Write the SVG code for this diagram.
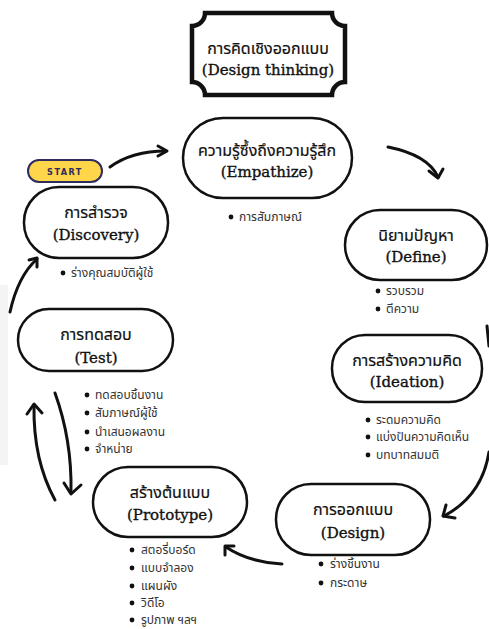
<svg xmlns="http://www.w3.org/2000/svg" width="489" height="629" viewBox="0 0 489 629">
<style>
.node{fill:#fff;stroke:#111;stroke-width:2.5}
.th{font-family:"Noto Sans Thai","Noto Sans","DejaVu Sans",sans-serif;font-size:16px;fill:#111;text-anchor:middle;stroke:#111;stroke-width:0.2}
.en{font-family:"DejaVu Serif","Liberation Serif",serif;font-size:15px;fill:#111;text-anchor:middle;stroke:#111;stroke-width:0.35}
.bl{font-family:"Noto Sans Thai","DejaVu Sans","Noto Sans",sans-serif;font-size:12px;fill:#333}
.dot{fill:#111}
.con{fill:none;stroke:#111;stroke-width:3;stroke-linecap:round;stroke-linejoin:round}
</style>
<rect width="489" height="629" fill="#fff"/>
<rect x="0" y="285" width="8" height="180" fill="#f4f4f4"/>
<g id="title">
<path d="M205,13 H332 A13,13 0 0 0 345,26 V82 A13,13 0 0 0 332,95 H205 A13,13 0 0 0 192,82 V26 A13,13 0 0 0 205,13 Z" fill="#fff" stroke="#111" stroke-width="4.5"/>
<text class="th" x="268" y="54">การคิดเชิงออกแบบ</text>
<text class="en" x="268" y="75">(Design thinking)</text>
</g>
<g id="start">
<rect x="28" y="160" width="74" height="22" rx="11" fill="#FFD54A" stroke="#2E2B5F" stroke-width="2"/>
<text x="65" y="175" font-family="DejaVu Sans Condensed,DejaVu Sans,sans-serif" font-size="9" font-weight="bold" letter-spacing="1.5" fill="#2E2B5F" text-anchor="middle">START</text>
</g>
<g id="empathize">
<rect class="node" x="183" y="118" width="169" height="80" rx="40"/>
<text class="th" x="267" y="156">ความรู้ซึ้งถึงความรู้สึก</text>
<text class="en" x="267" y="177">(Empathize)</text>
<circle class="dot" cx="231" cy="217" r="2.4"/>
<text class="bl" x="239" y="221">การสัมภาษณ์</text>
</g>
<g id="define">
<rect class="node" x="345" y="210" width="142" height="70" rx="35"/>
<text class="th" x="416" y="241">นิยามปัญหา</text>
<text class="en" x="416" y="262">(Define)</text>
<circle class="dot" cx="378" cy="291" r="2.4"/>
<text class="bl" x="386" y="295">รวบรวม</text>
<circle class="dot" cx="378" cy="309" r="2.4"/>
<text class="bl" x="386" y="313">ตีความ</text>
</g>
<g id="ideation">
<rect class="node" x="332" y="335" width="150" height="67" rx="33"/>
<text class="th" x="407" y="366">การสร้างความคิด</text>
<text class="en" x="407" y="387">(Ideation)</text>
<circle class="dot" cx="368" cy="420" r="2.4"/>
<text class="bl" x="376" y="424">ระดมความคิด</text>
<circle class="dot" cx="368" cy="437" r="2.4"/>
<text class="bl" x="376" y="441">แบ่งปันความคิดเห็น</text>
<circle class="dot" cx="368" cy="455" r="2.4"/>
<text class="bl" x="376" y="459">บทบาทสมมติ</text>
</g>
<g id="design">
<rect class="node" x="276" y="484" width="154" height="71" rx="35"/>
<text class="th" x="353" y="515">การออกแบบ</text>
<text class="en" x="353" y="538">(Design)</text>
<circle class="dot" cx="321" cy="564" r="2.4"/>
<text class="bl" x="330" y="568">ร่างชิ้นงาน</text>
<circle class="dot" cx="321" cy="583" r="2.4"/>
<text class="bl" x="330" y="587">กระดาษ</text>
</g>
<g id="prototype">
<rect class="node" x="93" y="467" width="154" height="70" rx="35"/>
<text class="th" x="170" y="498">สร้างต้นแบบ</text>
<text class="en" x="170" y="520">(Prototype)</text>
<circle class="dot" cx="132" cy="550" r="2.4"/>
<text class="bl" x="141" y="554">สตอรี่บอร์ด</text>
<circle class="dot" cx="132" cy="568" r="2.4"/>
<text class="bl" x="141" y="572">แบบจำลอง</text>
<circle class="dot" cx="132" cy="586" r="2.4"/>
<text class="bl" x="141" y="590">แผนผัง</text>
<circle class="dot" cx="132" cy="603" r="2.4"/>
<text class="bl" x="141" y="607">วิดีโอ</text>
<circle class="dot" cx="132" cy="620" r="2.4"/>
<text class="bl" x="141" y="624">รูปภาพ ฯลฯ</text>
</g>
<g id="test">
<rect class="node" x="18" y="309" width="155" height="62" rx="31"/>
<text class="th" x="96" y="340">การทดสอบ</text>
<text class="en" x="96" y="363">(Test)</text>
<circle class="dot" cx="87" cy="395" r="2.4"/>
<text class="bl" x="95" y="399">ทดสอบชิ้นงาน</text>
<circle class="dot" cx="87" cy="413" r="2.4"/>
<text class="bl" x="95" y="417">สัมภาษณ์ผู้ใช้</text>
<circle class="dot" cx="87" cy="432" r="2.4"/>
<text class="bl" x="95" y="436">นำเสนอผลงาน</text>
<circle class="dot" cx="87" cy="449" r="2.4"/>
<text class="bl" x="95" y="453">จำหน่าย</text>
</g>
<g id="discovery">
<rect class="node" x="24" y="187" width="144" height="71" rx="35"/>
<text class="th" x="96" y="218">การสำรวจ</text>
<text class="en" x="96" y="240">(Discovery)</text>
<circle class="dot" cx="63" cy="273" r="2.4"/>
<text class="bl" x="71" y="277">ร่างคุณสมบัติผู้ใช้</text>
</g>
<g id="connectors">
<path class="con" d="M110,167 Q132,151 166,151"/>
<path class="con" d="M158,146 L167,151 L158,156"/>
<path class="con" d="M388,147 Q428,155 438,177"/>
<path class="con" d="M429,171 L438,178 L443,169"/>
<path class="con" d="M487,326 L489,346"/>
<path class="con" d="M489,452 Q482,496 444,516"/>
<path class="con" d="M446,505 L443,516 L455,518"/>
<path class="con" d="M282,564 Q248,562 226,547"/>
<path class="con" d="M225,555 L225,546 L234,546"/>
<path class="con" d="M55,393 Q72,440 71,492"/>
<path class="con" d="M64,483 L71,494 L81,485"/>
<path class="con" d="M55,500 Q33,460 34,405"/>
<path class="con" d="M27,414 L34,404 L42,413"/>
<path class="con" d="M10,312 Q18,276 37,259"/>
<path class="con" d="M29,260 L37,258 L37,267"/>
</g>
</svg>
